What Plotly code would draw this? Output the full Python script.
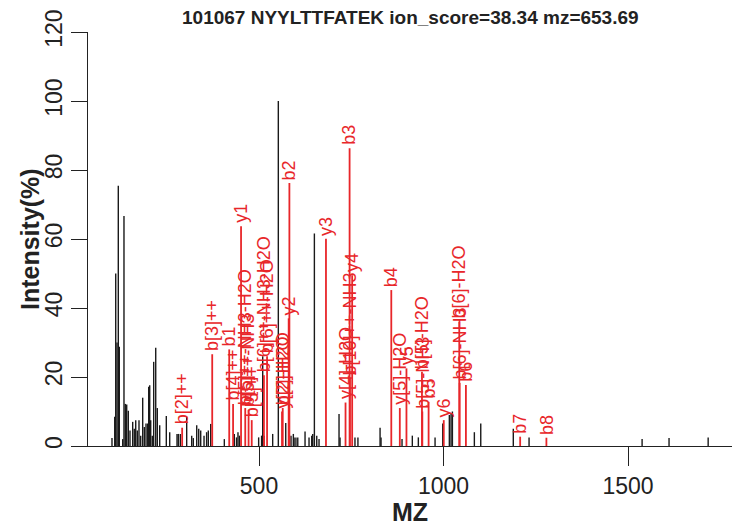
import plotly.graph_objects as go

# ---- data ----
black_mz = [101.6, 109, 111.7, 115.2, 118.7, 121.4, 130.6, 134.1, 137.7, 141.5,
            145.8, 150.4, 157.7, 162, 165.9, 170.2, 174.8, 179.4, 184.8, 189.2,
            193.8, 198.4, 201.1, 203.8, 206.5, 210.8, 214.6, 220.1, 224.4, 230.9,
            248.8, 258, 277.8, 281.3, 286.7, 304, 317.6, 322, 331.2, 336.6,
            342, 351, 358, 362.6, 369, 406, 433, 439, 443, 447,
            499, 507, 510, 513.6, 537, 552.3, 572.4, 586.7, 593, 595,
            600, 605, 624.7, 635.5, 642.8, 645.5, 650, 656.4, 662.6, 716.8,
            719.5, 760, 768, 828, 830.6, 887.5, 915.4, 931.7, 977, 997.8,
            1015.7, 1020.3, 1024, 1083.5, 1100.8, 1189, 1231.7, 1538, 1611, 1717]
black_int = [2.3, 8.5, 50, 30, 75.4, 28.8, 2, 66.7, 12.2, 12,
             10.2, 4.5, 7, 5, 7.5, 4.5, 7.5, 3, 14, 5.5,
             6.5, 6.5, 17.2, 17.6, 7.5, 3, 24.4, 28.5, 11, 6,
             8.7, 4, 3.5, 3.5, 3.5, 8.5, 3, 2.3, 6, 5,
             4.5, 3, 4, 4.5, 6.4, 2, 3.5, 2.5, 4, 3,
             2.5, 3, 26, 3, 3.5, 100, 6.7, 3, 3.5, 2.5,
             2.5, 2.5, 4.2, 2.5, 3, 3.5, 61.6, 3, 2, 9.3,
             2.5, 2.5, 2.5, 5.3, 2.5, 2, 3, 2.5, 2.5, 6.5,
             9, 9.5, 10, 4, 6.5, 5, 2.5, 2, 2.3, 2.5]

ion_labels = ["b[2]++", "b[3]++", "b1", "b[4]++", "y1",
              "b[5]++-NH3-H2O", "b[5]++-NH3", "b[5]++",
              "b[6]++-NH3-H2O", "b[6]++-H2O",
              "y[2]-H2O", "b[2]-H2O", "y2", "b2", "y3",
              "y[4]-H2O", "b3", "b[10]++-NH3", "y4",
              "b4", "y[5]-H2O", "y5", "b[5]-NH3", "b[5]-H2O", "b5",
              "y6", "b[6]-NH3", "b[6]-H2O", "b6", "b7", "b8"]
ion_mz = [291.7, 373.2, 419.25, 429.7, 451.3,
          462.7, 471.7, 480.25,
          513.3, 521.8,
          562.3, 564.3, 580.35, 582.3, 681.4,
          734.4, 745.4, 746.4, 752.4,
          858.4, 881.5, 899.5, 942.5, 941.5, 959.5,
          1000.6, 1043.6, 1042.6, 1060.6, 1207.6, 1278.7]
ion_int = [5.3, 26.6, 28, 12.2, 63.7,
           11, 10.5, 7.5,
           20.5, 26,
           10, 11, 37, 76.2, 60.1,
           12.6, 86.3, 19.7, 49.5,
           45.2, 11, 22.5, 10, 21.5, 12.8,
           7.5, 18.3, 36, 17.7, 2.7, 2.4]

title_text = "101067 NYYLTTFATEK ion_score=38.34 mz=653.69"
x_ticks = [500, 1000, 1500]
y_ticks = [0, 20, 40, 60, 80, 100, 120]

RED = "#E8262A"
INK = "#222222"
FONT = "Liberation Sans, Arial, sans-serif"


def sticks(xs, ys):
    X, Y = [], []
    for x, y in zip(xs, ys):
        X += [x, x, None]
        Y += [0, y, None]
    return X, Y


fig = go.Figure()
bx, by = sticks(black_mz, black_int)
fig.add_trace(go.Scatter(x=bx, y=by, mode="lines",
                         line=dict(color="#1a1a1a", width=1.4),
                         hoverinfo="skip", showlegend=False))
rx, ry = sticks(ion_mz, ion_int)
fig.add_trace(go.Scatter(x=rx, y=ry, mode="lines",
                         line=dict(color=RED, width=1.8),
                         hoverinfo="skip", showlegend=False))

for lab, x, y in zip(ion_labels, ion_mz, ion_int):
    fig.add_annotation(x=x, y=y, text=lab, showarrow=False, textangle=-90,
                       xanchor="center", yanchor="bottom", yshift=1,
                       font=dict(family=FONT, size=18, color=RED))

fig.add_annotation(text="<b>" + title_text + "</b>", xref="paper", yref="paper",
                   x=0.5, y=1, yshift=15, showarrow=False, yanchor="middle",
                   font=dict(family=FONT, size=19, color=INK))
fig.add_annotation(text="<b>Intensity(%)</b>", xref="paper", yref="paper",
                   x=0, y=0.5, xshift=-58, showarrow=False, textangle=-90,
                   xanchor="center", yanchor="middle",
                   font=dict(family=FONT, size=25, color=INK))
fig.add_annotation(text="<b>MZ</b>", xref="paper", yref="paper",
                   x=0.5, y=0, yshift=-66, showarrow=False,
                   xanchor="center", yanchor="middle",
                   font=dict(family=FONT, size=25, color=INK))

fig.update_layout(
    width=733, height=532,
    margin=dict(l=88, r=1, t=32, b=86, autoexpand=False),
    paper_bgcolor="white", plot_bgcolor="white",
    font=dict(family=FONT, color=INK),
)
fig.update_xaxes(range=[36.6, 1781.6], tickvals=x_ticks,
                 ticktext=[str(v) for v in x_ticks], automargin=False,
                 ticks="outside", ticklen=19, tickwidth=1.3, tickcolor=INK,
                 showline=True, linecolor=INK, linewidth=1.3,
                 showgrid=False, zeroline=False,
                 tickfont=dict(family=FONT, size=23, color=INK))
fig.update_yaxes(range=[0, 120], tickvals=y_ticks,
                 ticktext=[str(v) for v in y_ticks], automargin=False,
                 ticks="outside", ticklen=16, tickwidth=1.3, tickcolor=INK,
                 showline=True, linecolor=INK, linewidth=1.3,
                 showgrid=False, zeroline=False, tickangle=-90,
                 tickfont=dict(family=FONT, size=23, color=INK))

fig.write_html("out.html", config={"displayModeBar": False},
               post_script="document.body.style.margin='0';"
                           "document.body.style.overflow='hidden';")
